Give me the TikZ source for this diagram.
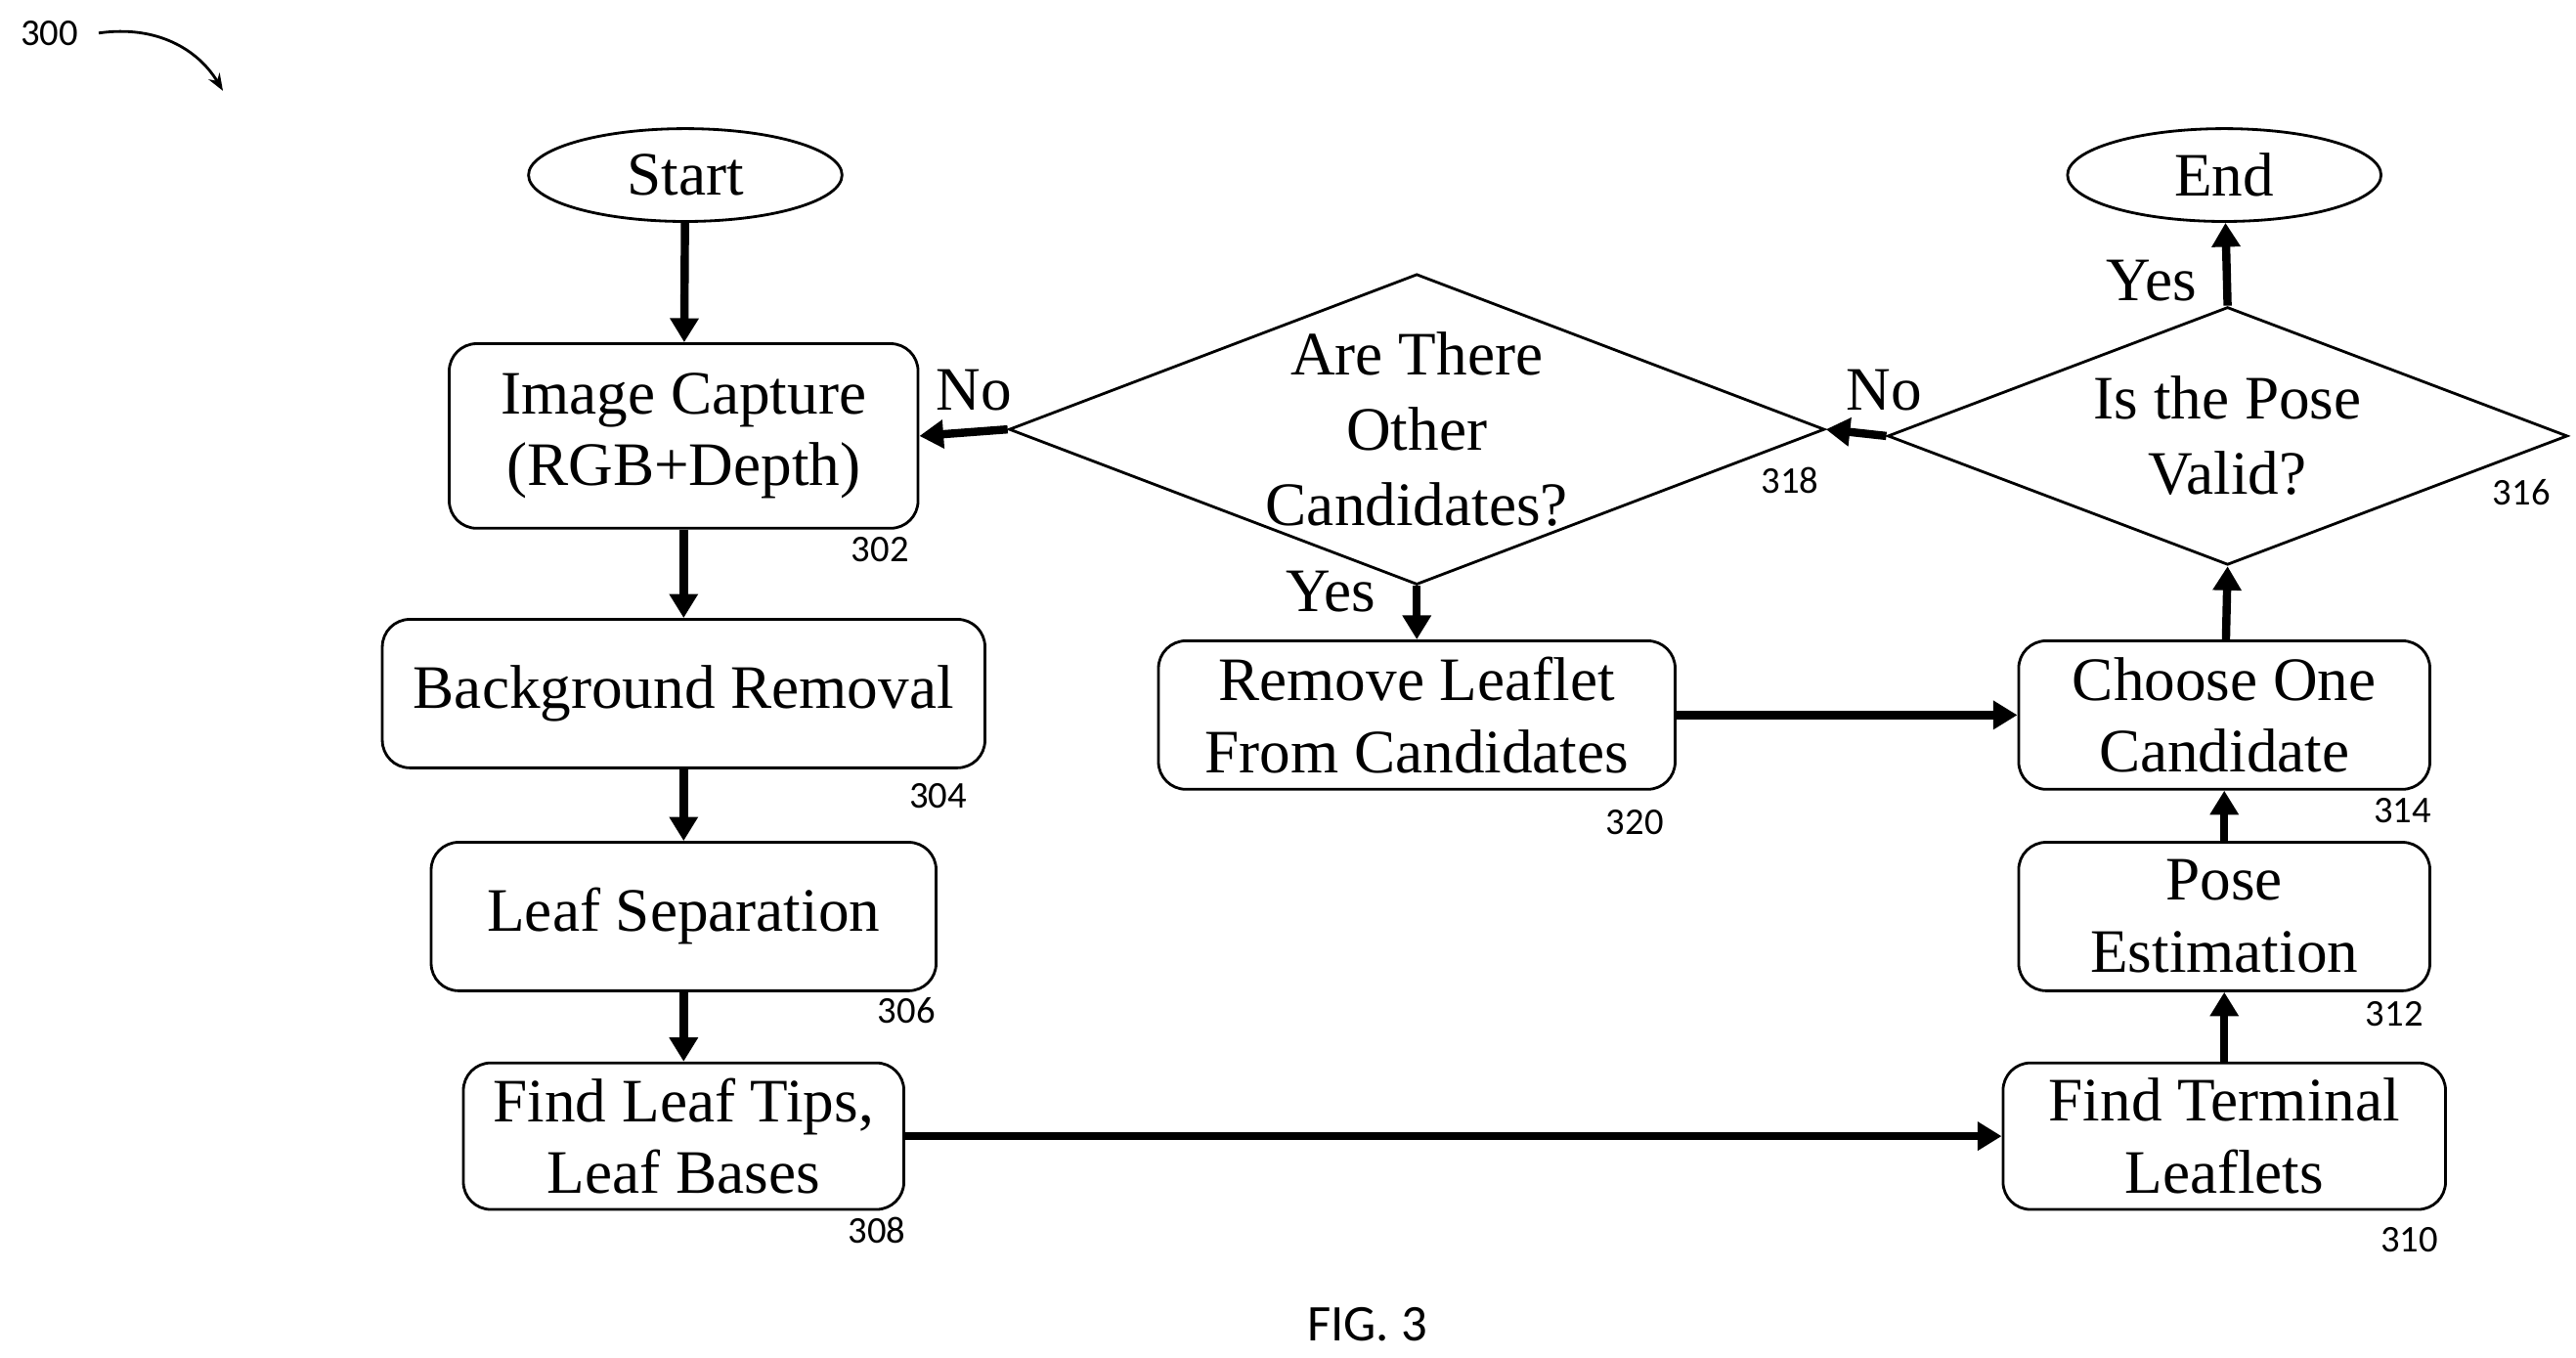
\documentclass[tikz,border=0pt]{standalone}
\usepackage{fontspec}
\setmainfont{Liberation Serif}
\newfontfamily\numf{Carlito}
\usetikzlibrary{shapes.geometric,arrows.meta}
\begin{document}
\begin{tikzpicture}[x=0.0169cm,y=-0.0169cm,
  box/.style={draw,rounded corners=8pt,line width=0.8pt,align=center,font=\fontsize{18}{21}\selectfont,inner sep=0pt},
  oval/.style={draw,ellipse,line width=0.8pt,minimum width=3.21cm,minimum height=0.95cm,inner sep=0pt,font=\fontsize{18}{21}\selectfont},
  dia/.style={draw,diamond,line width=0.8pt,inner sep=0pt},
  dtext/.style={align=center,font=\fontsize{18}{22}\selectfont},
  num/.style={font=\numf\fontsize{11}{13}\selectfont,inner sep=0pt},
  lbl/.style={font=\fontsize{18}{21}\selectfont,inner sep=0pt},
  arr/.style={-{Triangle[length=7pt,width=8pt]},line width=2.4pt}]
\useasboundingbox (0,0) rectangle (1560,822);
\node[oval] (start) at (415,106) {Start};
\node[oval] (end) at (1347,106) {End};
\node[box,minimum width=4.80cm,minimum height=1.89cm] (ic) at (414,264) {Image Capture\\(RGB+Depth)};
\node[box,minimum width=6.17cm,minimum height=1.52cm] (bg) at (414,420) {Background Removal};
\node[box,minimum width=5.17cm,minimum height=1.52cm] (ls) at (414,555) {Leaf Separation};
\node[box,minimum width=4.51cm,minimum height=1.50cm] (ft) at (414,688) {Find Leaf Tips,\\Leaf Bases};
\node[box,minimum width=4.53cm,minimum height=1.50cm] (tl) at (1347,688) {Find Terminal\\Leaflets};
\node[box,minimum width=4.21cm,minimum height=1.52cm] (pe) at (1347,555) {Pose\\Estimation};
\node[box,minimum width=4.21cm,minimum height=1.52cm] (cc) at (1347,433) {Choose One\\Candidate};
\node[box,minimum width=5.29cm,minimum height=1.52cm] (rl) at (858,433) {Remove Leaflet\\From Candidates};
\node[dia,minimum width=8.35cm,minimum height=3.18cm,label={[dtext]center:Are There\\Other\\Candidates?}] (d318) at (858,260) {};
\node[dia,minimum width=6.96cm,minimum height=2.64cm,label={[dtext]center:Is the Pose\\Valid?}] (d316) at (1349,264) {};
\draw[arr] (start) -- (ic);
\draw[arr] (ic) -- (bg);
\draw[arr] (bg) -- (ls);
\draw[arr] (ls) -- (ft);
\draw[arr] (ft) -- (tl);
\draw[arr] (tl) -- (pe);
\draw[arr] (pe) -- (cc);
\draw[arr] (cc) -- (d316.south);
\draw[arr] (d316.north) -- (end);
\draw[arr] (d316.west) -- (d318.east);
\draw[arr] (d318.west) -- (ic.east);
\draw[arr] (d318.south) -- (rl);
\draw[arr] (rl) -- (cc);
\node[lbl] (n1) at (590,236) {No};
\node[lbl] (n2) at (1141,236) {No};
\node[lbl] (y1) at (806,358) {Yes};
\node[lbl] (y2) at (1303,170) {Yes};
\node[num] at (533,333) {302};
\node[num] at (568,482) {304};
\node[num] at (549,612) {306};
\node[num] at (531,745) {308};
\node[num] at (1459,751) {310};
\node[num] at (1450,614) {312};
\node[num] at (1455,491) {314};
\node[num] at (1527,298) {316};
\node[num] at (1084,291) {318};
\node[num] at (990,498) {320};
\node[num] (r300) at (30,20) {300};
\coordinate (a300) at (135,55);
\draw[-{Stealth[length=5pt]},line width=0.8pt] (r300.east) ++(12,0) .. controls (95,15) and (120,30) .. (a300);
\node[font=\numf\fontsize{15}{18}\selectfont] at (828,802) {FIG. 3};
\end{tikzpicture}
\end{document}
